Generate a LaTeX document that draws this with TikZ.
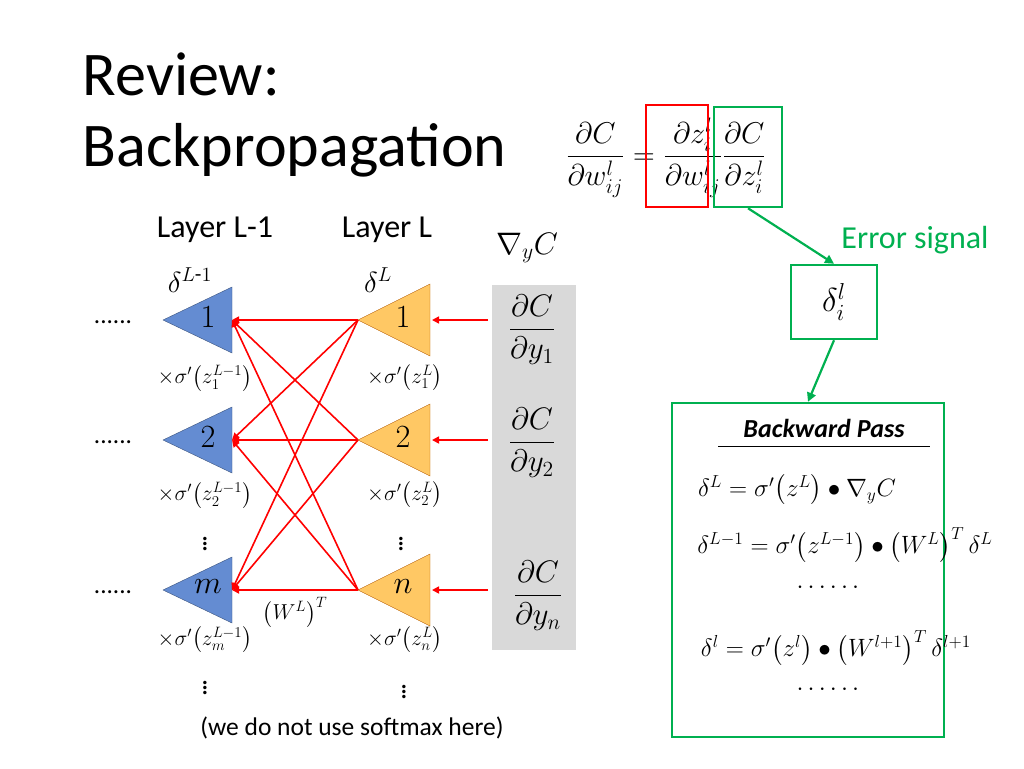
\documentclass[tikz,border=0pt]{standalone}
\usepackage{fontspec}
\setmainfont{Carlito}
\usepackage{amsmath}
\usetikzlibrary{arrows.meta}
\definecolor{gr}{RGB}{0,176,80}
\definecolor{blu}{RGB}{100,140,210}
\definecolor{org}{RGB}{255,200,100}
\begin{document}
\begin{tikzpicture}[x=1pt,y=-1pt,
  blue tri/.style={fill=blu,draw=blu!60!black,line width=0.4pt},
  org tri/.style={fill=org,draw=orange!70!black,line width=0.4pt},
  rl/.style={draw=red,line width=1.6pt,-{Triangle[length=7pt,width=7pt]}},
  ga/.style={draw=gr,line width=2.2pt,-{Triangle[length=9pt,width=9pt]}},
  lab/.style={font=\fontsize{20}{24}\selectfont,scale=1.6,transform shape},
  sc/.style={scale=#1,transform shape},
  mf/.style={font=\fontsize{17}{20}\selectfont},
  m/.style={mf,scale=1.45,transform shape}]
\useasboundingbox (0,0) rectangle (1024,768);
\node[anchor=west,font=\fontsize{46}{56}\selectfont,align=left,sc=1.35] (title) at (78,115) {Review:\\[-4pt]Backpropagation};
% top formula
\node[sc=1.45] (f) at (666,158) {\fontsize{22}{26}\selectfont$\dfrac{\partial C}{\partial w_{ij}^l}=\dfrac{\partial z_i^l}{\partial w_{ij}^l}\dfrac{\partial C}{\partial z_i^l}$};
\node[draw=red,line width=2.5pt,minimum width=62pt,minimum height=102pt] (rb) at (677,156) {};
\node[draw=gr,line width=2.5pt,minimum width=68pt,minimum height=100pt] (gb) at (748,157) {};
\node[text=gr,lab] (es) at (915,240) {Error signal};
\node[draw=gr,line width=2.5pt,minimum width=86pt,minimum height=74pt] (eb) at (834,302) {};
\node[sc=1.6] (ebt) at (eb.center) {\fontsize{22}{26}\selectfont$\delta_i^l$};
\draw[ga] (gb.south) -- (eb.north);
\node[draw=gr,line width=2.5pt,minimum width=272pt,minimum height=334pt] (bp) at (808,570) {};
\draw[ga] (eb.south) -- (bp.north);
\node[font=\bfseries\itshape\fontsize{20}{24}\selectfont,sc=1.3] (bpt) at (824,428) {Backward Pass};
\draw[line width=1pt] (718,446) -- (930,446);
\node[m] (e1) at (797,490) {$\delta^{L}=\sigma'\!\left(z^L\right)\bullet\nabla_y C$};
\node[m] (e2) at (845,545) {$\delta^{L-1}=\sigma'\!\left(z^{L-1}\right)\bullet\left(W^L\right)^T\delta^L$};
\node[m] (e3) at (830,588) {$\cdots\cdots$};
\node[m] (e4) at (836,648) {$\delta^{l}=\sigma'\!\left(z^{l}\right)\bullet\left(W^{l+1}\right)^T\delta^{l+1}$};
\node[m] (e5) at (830,690) {$\cdots\cdots$};
% layers
\node[lab] (ll1) at (215,230) {Layer L-1};
\node[lab] (ll) at (387,230) {Layer L};
\node[font=\fontsize{22}{26}\selectfont,sc=1.4] (d1) at (190,280) {$\delta^{L\text{-}1}$};
\node[font=\fontsize{22}{26}\selectfont,sc=1.4] (d2) at (378,280) {$\delta^{L}$};
% triangles
\foreach \n/\y/\t in {a/320/1,b/440/2,c/590/m}{
  \draw[blue tri] (163,\y) -- (232,\y-33) -- (232,\y+33) -- cycle;
  \coordinate (b\n) at (232,\y);
  \node[font=\fontsize{24}{28}\selectfont,sc=1.3] at (208,\y-3) {$\t$};
  \node[font=\fontsize{18}{20}\selectfont,sc=1.4] at (113,\y+2) {......};
}
\foreach \n/\y/\t in {a/320/1,b/440/2,c/590/n}{
  \draw[org tri] (358,\y) -- (430,\y-36) -- (430,\y+36) -- cycle;
  \coordinate (o\n) at (358,\y);
  \node[font=\fontsize{24}{28}\selectfont,sc=1.3] at (403,\y-3) {$\t$};
}
\foreach \y/\s in {378/1,495/2,640/m}{\node[mf,sc=1.25] at (205,\y) {$\times\sigma'\!\left(z_{\s}^{L-1}\right)$};}
\foreach \y/\s in {378/1,495/2,640/n}{\node[mf,sc=1.25] at (405,\y) {$\times\sigma'\!\left(z_{\s}^{L}\right)$};}
\foreach \x/\y in {205/540,401/540,205/684,404/688}{\node[font=\fontsize{22}{26}\selectfont,inner sep=0pt,sc=1.3] at (\x,\y) {$\vdots$};}
\foreach \i in {a,b,c}{\foreach \j in {a,b,c}{\draw[rl] (o\i) -- (b\j);}}
\node[mf,sc=1.25] (wt) at (295,612) {$\left(W^{L}\right)^T$};
% gray column
\fill[gray!30] (492,285) rectangle (576,650);
\node[font=\fontsize{22}{26}\selectfont,sc=1.5] (ny) at (527,248) {$\nabla_y C$};
\node[font=\fontsize{20}{24}\selectfont,sc=1.5] (g1) at (532,330) {$\dfrac{\partial C}{\partial y_1}$};
\node[font=\fontsize{20}{24}\selectfont,sc=1.5] (g2) at (532,443) {$\dfrac{\partial C}{\partial y_2}$};
\node[font=\fontsize{20}{24}\selectfont,sc=1.5] (g3) at (538,596) {$\dfrac{\partial C}{\partial y_n}$};
\coordinate (ga1) at (488,320); \coordinate (ga2) at (488,440); \coordinate (ga3) at (488,590);
\draw[rl] (ga1) -- (432,320);
\draw[rl] (ga2) -- (432,440);
\draw[rl] (ga3) -- (432,590);
\node[font=\fontsize{17}{20}\selectfont,sc=1.5] (note) at (352,728) {(we do not use softmax here)};
\end{tikzpicture}
\end{document}
